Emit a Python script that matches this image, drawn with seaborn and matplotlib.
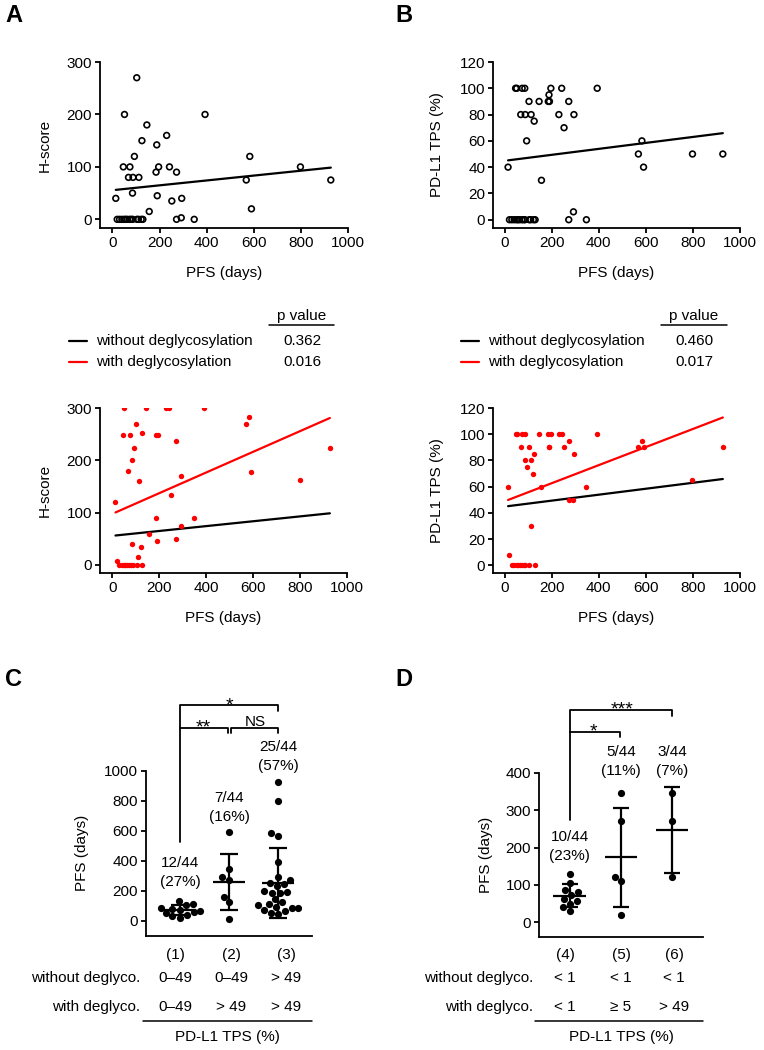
import numpy as np
import pandas as pd
import matplotlib
matplotlib.use("Agg")
import matplotlib.pyplot as plt
import matplotlib.transforms as mtransforms
from matplotlib.lines import Line2D
import seaborn as sns

# ---------------- data (44 patients) ----------------
pfs = [30, 40, 50, 56, 63, 73, 80, 86, 104, 129,
       20, 110,
       14, 122, 156, 272, 292, 347, 590,
       46, 51, 68, 74, 85, 87, 93, 103, 112, 125, 146, 185, 188, 190, 196,
       230, 242, 252, 272, 294, 393, 568, 583, 798, 927]
hscore_without = [0, 0, 0, 0, 0, 0, 0, 0, 0, 0,
                  0, 0,
                  40, 0, 15, 0, 3, 0, 20,
                  100, 200, 80, 100, 50, 80, 120, 270, 80, 150, 180, 90, 142, 45, 100,
                  160, 100, 35, 90, 40, 200, 75, 120, 100, 75]
hscore_with = [0, 0, 0, 0, 0, 0, 0, 40, 0, 0,
               8, 15,
               120, 35, 60, 49, 75, 90, 178,
               248, 300, 180, 248, 200, 0, 223, 269, 160, 253, 300, 90, 248, 45, 248,
               300, 300, 133, 237, 170, 300, 269, 283, 162, 223]
tps_without = [0, 0, 0, 0, 0, 0, 0, 0, 0, 0,
               0, 0,
               40, 0, 30, 0, 6, 0, 40,
               100, 100, 80, 100, 100, 80, 60, 90, 80, 75, 90, 90, 95, 90, 100,
               80, 100, 70, 90, 80, 100, 50, 60, 50, 50]
tps_with = [0, 0, 0, 0, 0, 0, 0, 0, 0, 0,
            8, 30,
            60, 70, 60, 50, 50, 60, 90,
            100, 100, 90, 100, 100, 80, 75, 90, 80, 85, 100, 100, 90, 90, 100,
            100, 100, 90, 95, 85, 100, 90, 95, 65, 90]

series_labels = ["without deglycosylation", "with deglycosylation"]
p_values_hscore = ["0.362", "0.016"]
p_values_tps = ["0.460", "0.017"]

groups_c = ["(1)", "(2)", "(3)"]
groups_d = ["(4)", "(5)", "(6)"]
c_without = ["0\u201349", "0\u201349", "> 49"]
c_with = ["0\u201349", "> 49", "> 49"]
d_without = ["< 1", "< 1", "< 1"]
d_with = ["< 1", "\u2265 5", "> 49"]
sig_c = ["**", "NS", "*"]
sig_d = ["*", "***"]
n_total = 44

# ---------------- style ----------------
sns.set_theme(style="ticks")
plt.rcParams["font.family"] = ["Liberation Sans", "DejaVu Sans"]
plt.rcParams.update({
    "font.size": 11, "axes.linewidth": 1.3, "axes.edgecolor": "black",
    "xtick.major.width": 1.3, "ytick.major.width": 1.3,
    "xtick.major.size": 3.6, "ytick.major.size": 3.6,
    "xtick.color": "black", "ytick.color": "black",
    "xtick.labelsize": 11, "ytick.labelsize": 11,
    "axes.labelsize": 11, "axes.labelcolor": "black", "text.color": "black",
})
RED = "#ff0000"

W, H = 764, 1050
fig = plt.figure(figsize=(W / 100, H / 100), dpi=100)


def fx(px):
    return px / W


def fy(py):
    return 1 - py / H


def add_ax(left, top, right, bottom):
    return fig.add_axes([left / W, 1 - bottom / H, (right - left) / W, (bottom - top) / H])


df = pd.DataFrame({"pfs": pfs, "h_wo": hscore_without, "h_w": hscore_with,
                   "t_wo": tps_without, "t_w": tps_with})


def style_scatter(ax, xlim, ylim, yticks, ylabel):
    ax.set_xlim(*xlim)
    ax.set_ylim(*ylim)
    ax.set_xticks(range(0, 1001, 200))
    ax.set_yticks(yticks)
    ax.set_xlabel("PFS (days)", labelpad=12)
    ax.set_ylabel(ylabel, labelpad=11)
    ax.tick_params(pad=2)
    sns.despine(ax=ax)


def open_scatter(ax, ycol):
    sns.scatterplot(data=df, x="pfs", y=ycol, ax=ax, marker="o", s=17,
                    facecolors="none", edgecolor="black", linewidth=1.2, zorder=3)


def reg_line(ax, ycol, color):
    sns.regplot(data=df, x="pfs", y=ycol, ax=ax, scatter=False, ci=None,
                truncate=True, color=color, line_kws={"lw": 1.6})


# Panel A top
axA = add_ax(100, 62, 348, 228)
reg_line(axA, "h_wo", "black")
open_scatter(axA, "h_wo")
style_scatter(axA, (-53, 1000), (-16.5, 300), [0, 100, 200, 300], "H-score")

# Panel B top
axB = add_ax(493, 62, 740, 228)
reg_line(axB, "t_wo", "black")
open_scatter(axB, "t_wo")
style_scatter(axB, (-50, 1000), (-6.3, 120), list(range(0, 121, 20)), "PD-L1 TPS (%)")

# Panel A bottom
axA2 = add_ax(100, 408, 347, 573)
reg_line(axA2, "h_wo", "black")
reg_line(axA2, "h_w", RED)
sns.scatterplot(data=df, x="pfs", y="h_w", ax=axA2, color=RED, s=15, linewidth=0, zorder=3)
style_scatter(axA2, (-52, 1000), (-15.5, 300), [0, 100, 200, 300], "H-score")

# Panel B bottom
axB2 = add_ax(493, 408, 740, 573)
reg_line(axB2, "t_wo", "black")
reg_line(axB2, "t_w", RED)
sns.scatterplot(data=df, x="pfs", y="t_w", ax=axB2, color=RED, s=15, linewidth=0, zorder=3)
style_scatter(axB2, (-50, 1000), (-5.8, 120), list(range(0, 121, 20)), "PD-L1 TPS (%)")

# Legends with p values
def legend_block(x_line, x_text, x_p, u_l, u_r, pvals):
    fig.text(fx(x_p), fy(316), "p value", ha="center", va="center", fontsize=11)
    fig.add_artist(Line2D([fx(u_l), fx(u_r)], [fy(324.5)] * 2, color="black", lw=1.1))
    for i, (lab, col) in enumerate(zip(series_labels, ["black", RED])):
        yy = 341 + i * 21
        fig.add_artist(Line2D([fx(x_line), fx(x_line + 18)], [fy(yy)] * 2, color=col, lw=1.6))
        fig.text(fx(x_text), fy(yy), lab, ha="left", va="center", fontsize=11)
        fig.text(fx(x_p), fy(yy), pvals[i], ha="center", va="center", fontsize=11)


legend_block(69, 96, 302, 269, 334, p_values_hscore)
legend_block(461, 488, 694, 661, 727, p_values_tps)

# ---------------- Panels C and D ----------------
def grp_c(r):
    if r.t_wo <= 49 and r.t_w <= 49:
        return groups_c[0]
    if r.t_wo <= 49 and r.t_w > 49:
        return groups_c[1]
    return groups_c[2]


dfc = df.assign(grp=df.apply(grp_c, axis=1))
sub0 = df[df.t_wo < 1]
dfd = pd.concat([
    sub0[sub0.t_w < 1].assign(grp=groups_d[0]),
    sub0[sub0.t_w >= 5].assign(grp=groups_d[1]),
    sub0[sub0.t_w > 49].assign(grp=groups_d[2]),
])


def dot_panel(ax, data, order, ylim, yticks, mean_w, cap_w, xlim, labelpad):
    sns.swarmplot(data=data, x="grp", y="pfs", order=order, ax=ax, color="black",
                  size=5.2, zorder=3)
    for i, g in enumerate(order):
        v = data.loc[data.grp == g, "pfs"].to_numpy(float)
        m, s = v.mean(), v.std(ddof=1)
        ax.hlines(m, i - mean_w, i + mean_w, color="black", lw=1.6, zorder=4)
        ax.vlines(i, m - s, m + s, color="black", lw=1.6, zorder=4)
        ax.hlines([m - s, m + s], i - cap_w, i + cap_w, color="black", lw=1.6, zorder=4)
    ax.set_xlim(*xlim)
    ax.set_ylim(*ylim)
    ax.set_yticks(yticks)
    ax.set_xticks([])
    ax.set_xlabel("")
    ax.set_ylabel("PFS (days)", labelpad=labelpad)
    ax.tick_params(pad=2)
    sns.despine(ax=ax)


axC = add_ax(146, 770.7, 312, 936)
dot_panel(axC, dfc, groups_c, (-102, 1000), list(range(0, 1001, 200)), 0.33, 0.19,
          (-0.69, 2.69), 11)
axD = add_ax(538.7, 772.7, 703, 937.3)
dot_panel(axD, dfd, groups_d, (-40, 400), list(range(0, 401, 100)), 0.32, 0.16,
          (-0.61, 2.61), 9)


def bl(ax):
    return mtransforms.blended_transform_factory(ax.transData, fig.transFigure)


def seg(ax, xs, ys):
    ax.add_line(Line2D(xs, [fy(v) for v in ys], transform=bl(ax), color="black",
                       lw=1.3, clip_on=False))


STAR = 14
# C brackets
seg(axC, [0, 0, 2, 2], [841.7, 705, 705, 711])
seg(axC, [0, 0.97, 0.97], [728, 728, 732.5])
seg(axC, [1.04, 1.04, 2, 2], [732.5, 728, 728, 732.5])
axC.text(1.0, fy(710), sig_c[2], transform=bl(axC), ha="center", va="baseline", fontsize=STAR)
axC.text(0.47, fy(732), sig_c[0], transform=bl(axC), ha="center", va="baseline", fontsize=STAR)
axC.text(1.53, fy(725.5), sig_c[1], transform=bl(axC), ha="center", va="baseline", fontsize=11)

# D brackets
seg(axD, [0, 0, 2, 2], [820, 710, 710, 715.5])
seg(axD, [0, 0.975, 0.975], [731.7, 731.7, 736.5])
axD.text(1.03, fy(714.5), sig_d[1], transform=bl(axD), ha="center", va="baseline", fontsize=STAR)
axD.text(0.46, fy(736.5), sig_d[0], transform=bl(axD), ha="center", va="baseline", fontsize=STAR)


def count_labels(ax, data, order, ys):
    for i, g in enumerate(order):
        n = int((data.grp == g).sum())
        pct = round(100 * n / n_total)
        y1 = ys[i]
        ax.text(i, fy(y1), f"{n}/{n_total}", transform=bl(ax), ha="center", va="center", fontsize=11)
        ax.text(i, fy(y1 + 19), f"({pct}%)", transform=bl(ax), ha="center", va="center", fontsize=11)


count_labels(axC, dfc, groups_c, [863, 798, 747])
count_labels(axD, dfd, groups_d, [837, 752, 752])


def table(xcols, x_right, groups, row1, row2, ul, ur, xc):
    for i in range(3):
        fig.text(fx(xcols[i]), fy(955), groups[i], ha="center", va="center", fontsize=11)
        fig.text(fx(xcols[i]), fy(978), row1[i], ha="center", va="center", fontsize=11)
        fig.text(fx(xcols[i]), fy(1007), row2[i], ha="center", va="center", fontsize=11)
    fig.text(fx(x_right), fy(978), "without deglyco.", ha="right", va="center", fontsize=11)
    fig.text(fx(x_right), fy(1007), "with deglyco.", ha="right", va="center", fontsize=11)
    fig.add_artist(Line2D([fx(ul), fx(ur)], [fy(1020.5)] * 2, color="black", lw=1.1))
    fig.text(fx(xc), fy(1036.5), "PD-L1 TPS (%)", ha="center", va="center", fontsize=11)


table([175, 231, 286], 140, groups_c, c_without, c_with, 143, 312, 227)
table([565, 621, 674], 533, groups_d, d_without, d_with, 535, 703, 621)

# panel letters
for lab, x, y in [("A", 5, 16), ("B", 395, 16), ("C", 5, 680), ("D", 395, 680)]:
    fig.text(fx(x), fy(y), lab, ha="left", va="center", fontsize=17, fontweight="bold")

fig.savefig("out.png", dpi=100)
